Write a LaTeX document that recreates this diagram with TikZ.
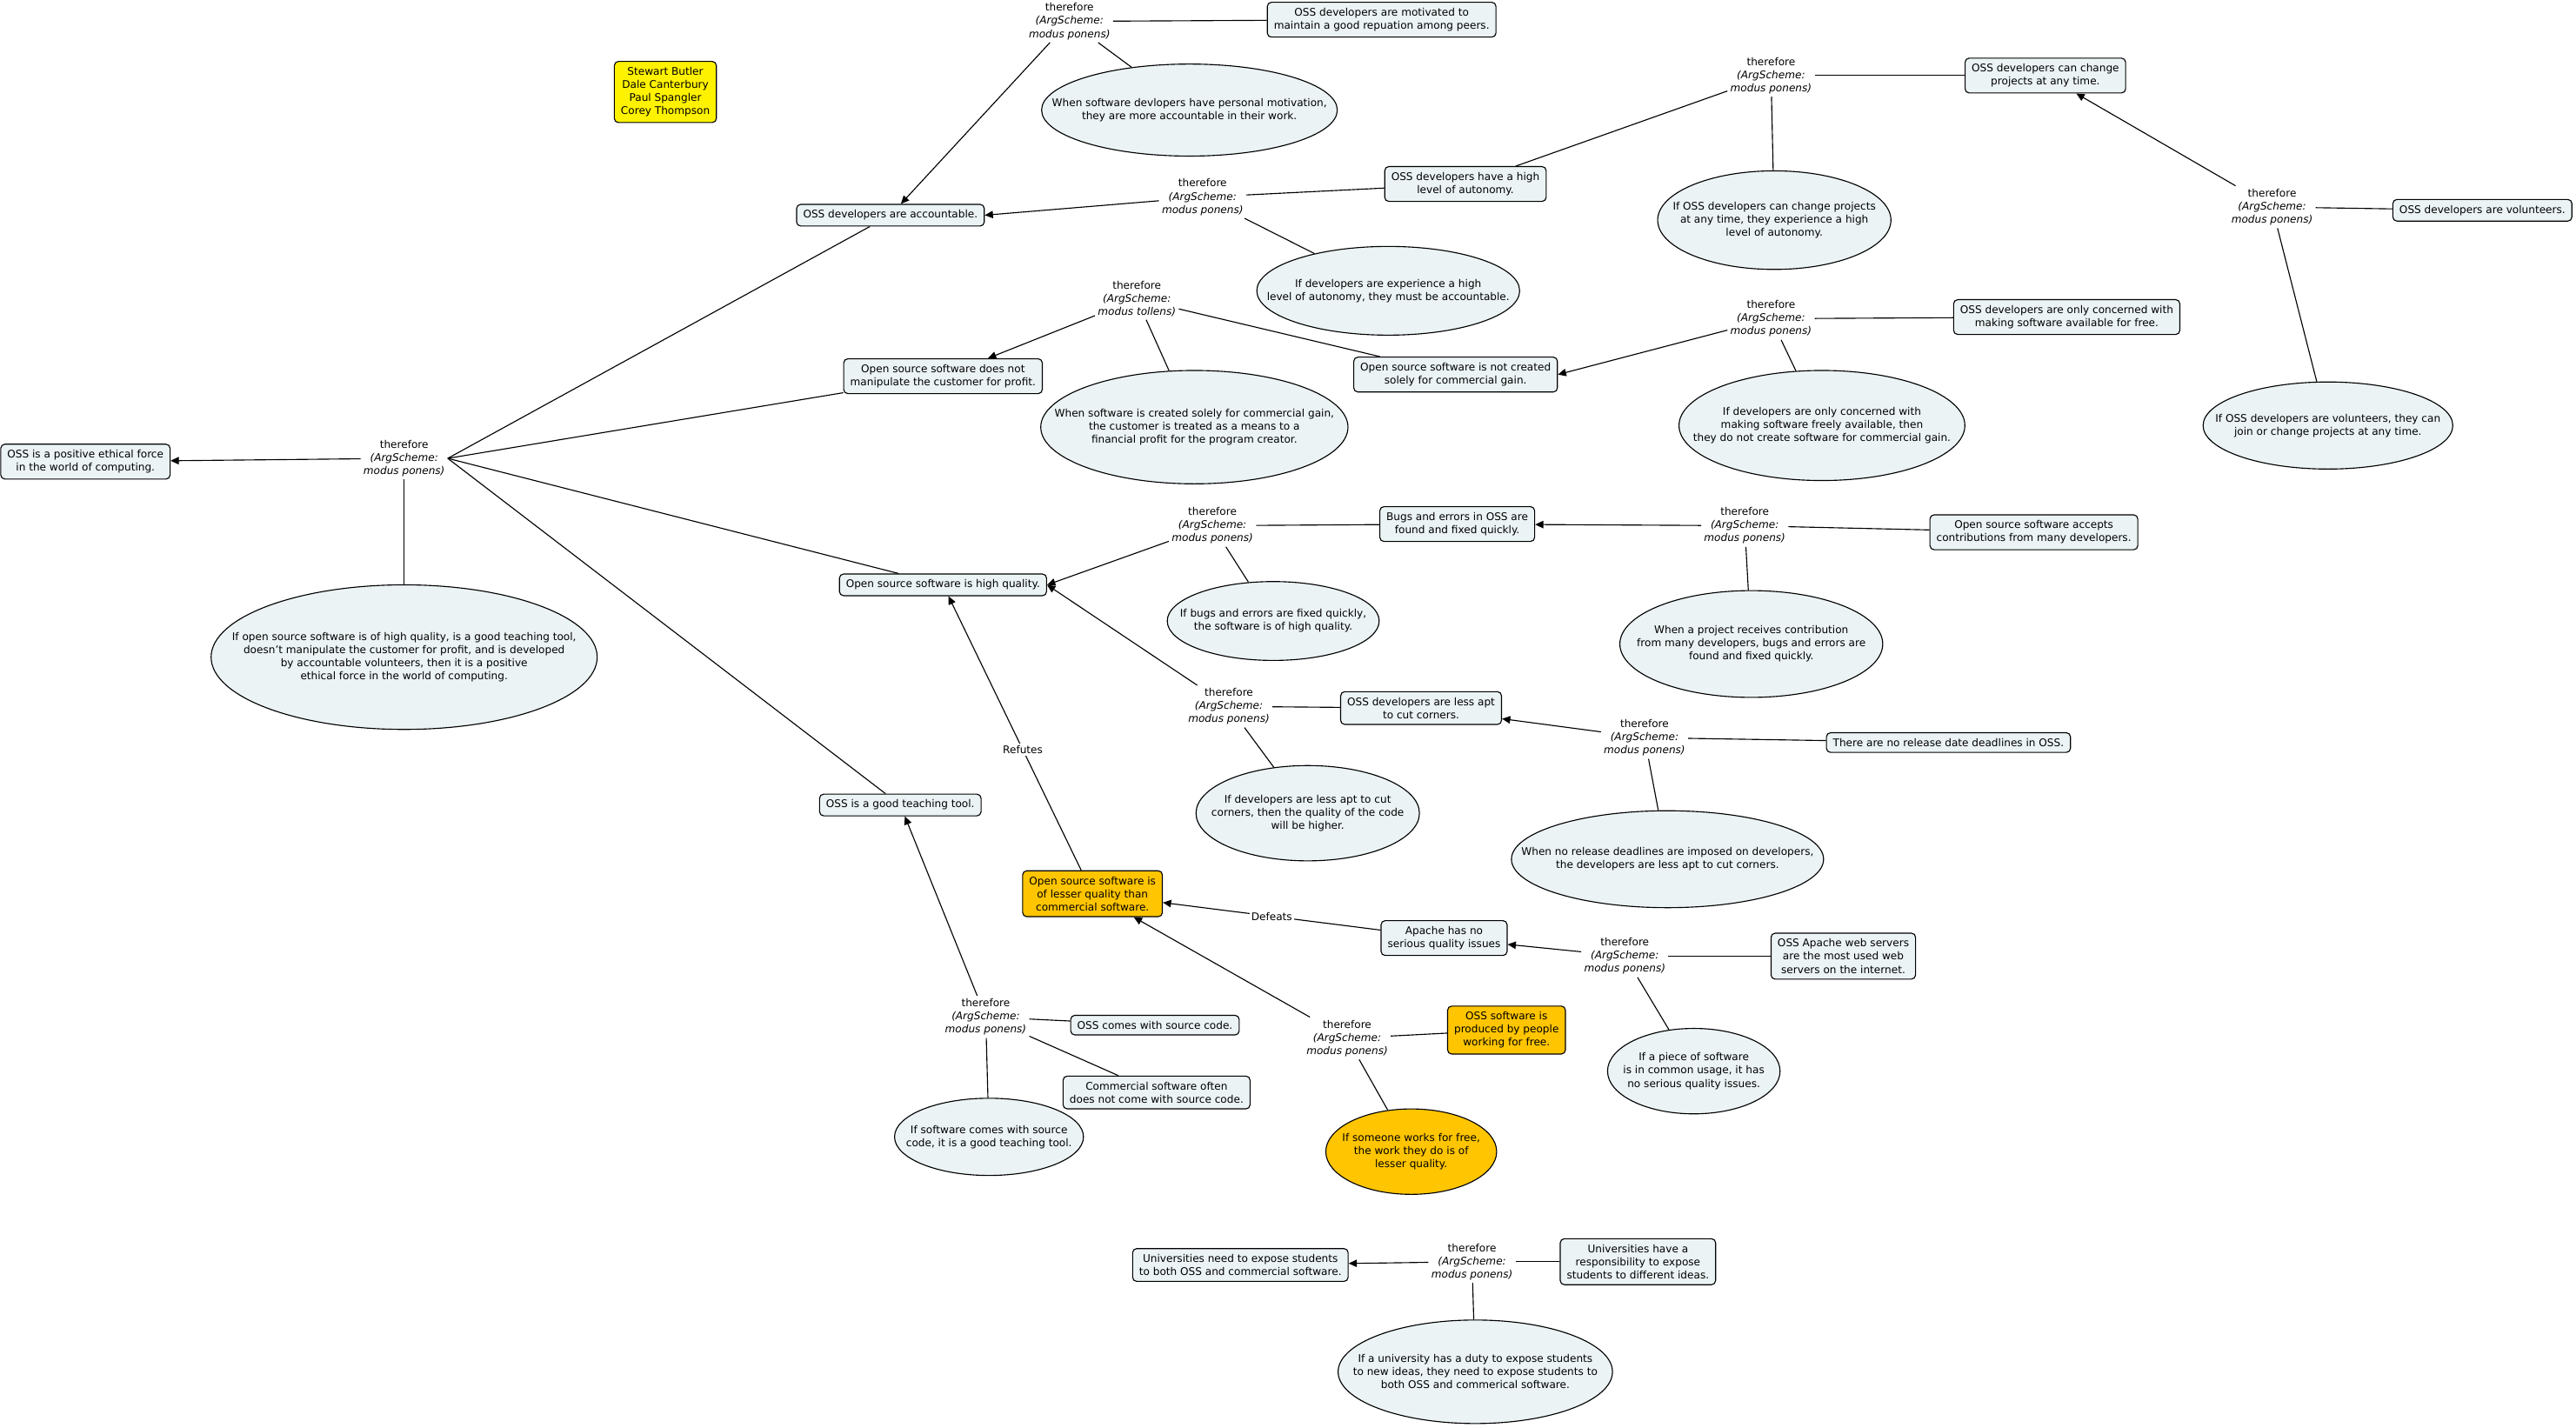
\documentclass[tikz,border=0pt]{standalone}
\usepackage{fontspec}
\setmainfont{DejaVu Sans}
\usepackage{xcolor}
\usepackage{tikz}
\usetikzlibrary{positioning}
\usetikzlibrary{arrows.meta}
\usetikzlibrary{shapes.geometric}

\definecolor{boxblue}{RGB}{235,243,245}
\definecolor{gold}{RGB}{255,197,0}

\newcommand{\argmp}{therefore\\\textit{(ArgScheme:}\\\textit{modus ponens)}}
\newcommand{\argmt}{therefore\\\textit{(ArgScheme:}\\\textit{modus tollens)}}

\tikzset{
  claim/.style={draw, rounded corners=2.5pt, fill=boxblue, align=center, inner xsep=4pt, inner ysep=3.5pt},
  rule/.style={ellipse, draw, fill=boxblue, inner sep=0pt},
  rtext/.style={align=center, inner sep=0pt},
  esize/.style 2 args={minimum width=#1pt, minimum height=#2pt},
  infer/.style={align=center, inner sep=1.5pt},
  conn/.style={-{Triangle[length=5pt,width=4.5pt]}},
  cut/.style={fill=white, inner sep=1pt}
}

\begin{document}
\begin{tikzpicture}[x=1pt, y=-1pt, line width=0.6pt, font=\fontsize{6.4}{8}\selectfont]
    \useasboundingbox (0,0) rectangle (1568,869);

    \node[claim, fill=yellow] (authors) at (405,56) {Stewart Butler\\Dale Canterbury\\Paul Spangler\\Corey Thompson};

    % accountability
    \node[infer] (thA) at (651,13) {\argmp};
    \node[claim] (motiv) at (841,12) {OSS developers are motivated to\\maintain a good repuation among peers.};
    \node[rule, esize={180}{56}, label={[rtext]center:{When software devlopers have personal motivation,\\they are more accountable in their work.}}] (rMotiv) at (724,67) {};
    \node[claim] (acc) at (542,131) {OSS developers are accountable.};
    \node[infer] (thB) at (732,120) {\argmp};
    \node[claim] (auton) at (892,112) {OSS developers have a high\\level of autonomy.};
    \node[rule, esize={160}{54}, label={[rtext]center:{If developers are experience a high\\level of autonomy, they must be accountable.}}] (rAuton) at (845,177) {};
    \node[infer] (thC) at (1078,46) {\argmp};
    \node[claim] (change) at (1245,46) {OSS developers can change\\projects at any time.};
    \node[rule, esize={142}{60}, label={[rtext]center:{If OSS developers can change projects\\at any time, they experience a high\\level of autonomy.}}] (rChange) at (1080,134) {};
    \node[infer] (thD) at (1383,126) {\argmp};
    \node[claim] (volun) at (1511,128) {OSS developers are volunteers.};
    \node[rule, esize={152}{53}, label={[rtext]center:{If OSS developers are volunteers, they can\\join or change projects at any time.}}] (rVolun) at (1417,259) {};

    % customer
    \node[infer] (thE) at (692,182) {\argmt};
    \node[claim] (manip) at (574,229) {Open source software does not\\manipulate the customer for profit.};
    \node[rule, esize={187}{69}, label={[rtext]center:{When software is created solely for commercial gain,\\the customer is treated as a means to a\\financial profit for the program creator.}}] (rManip) at (727,260) {};
    \node[claim] (notcom) at (886,228) {Open source software is not created\\solely for commercial gain.};
    \node[infer] (thF) at (1078,194) {\argmp};
    \node[claim] (free) at (1258,193) {OSS developers are only concerned with\\making software available for free.};
    \node[rule, esize={174}{67}, label={[rtext]center:{If developers are only concerned with\\making software freely available, then\\they do not create software for commercial gain.}}] (rFree) at (1109,259) {};

    % main claim
    \node[claim] (ethic) at (52,281) {OSS is a positive ethical force\\in the world of computing.};
    \node[infer] (thMain) at (246,279) {\argmp};
    \node[rule, esize={235}{88}, label={[rtext]center:{If open source software is of high quality, is a good teaching tool,\\doesn't manipulate the customer for profit, and is developed\\by accountable volunteers, then it is a positive\\ethical force in the world of computing.}}] (rEthic) at (246,400) {};

    % quality
    \node[claim] (quality) at (574,356) {Open source software is high quality.};
    \node[infer] (thG) at (738,320) {\argmp};
    \node[claim] (bugs) at (887,319) {Bugs and errors in OSS are\\found and fixed quickly.};
    \node[rule, esize={129}{48}, label={[rtext]center:{If bugs and errors are fixed quickly,\\the software is of high quality.}}] (rBugs) at (775,378) {};
    \node[infer] (thH) at (1062,320) {\argmp};
    \node[claim] (contrib) at (1238,324) {Open source software accepts\\contributions from many developers.};
    \node[rule, esize={160}{65}, label={[rtext]center:{When a project receives contribution\\from many developers, bugs and errors are\\found and fixed quickly.}}] (rContrib) at (1066,392) {};
    \node[infer] (thI) at (748,430) {\argmp};
    \node[claim] (corners) at (865,431) {OSS developers are less apt\\to cut corners.};
    \node[rule, esize={136}{58}, label={[rtext]center:{If developers are less apt to cut\\corners, then the quality of the code\\will be higher.}}] (rCorners) at (796,495) {};
    \node[infer] (thJ) at (1001,449) {\argmp};
    \node[claim] (deadl) at (1186,452) {There are no release date deadlines in OSS.};
    \node[rule, esize={190}{59}, label={[rtext]center:{When no release deadlines are imposed on developers,\\the developers are less apt to cut corners.}}] (rDeadl) at (1015,523) {};

    % objection
    \node[claim, fill=gold] (lesser) at (665,544) {Open source software is\\of lesser quality than\\commercial software.};
    \node[claim] (apache) at (879,571) {Apache has no\\serious quality issues};
    \node[infer] (thK) at (989,582) {\argmp};
    \node[claim] (webserv) at (1122,582) {OSS Apache web servers\\are the most used web\\servers on the internet.};
    \node[rule, esize={105}{52}, label={[rtext]center:{If a piece of software\\is in common usage, it has\\no serious quality issues.}}] (rWeb) at (1031,652) {};
    \node[infer] (thM) at (820,632) {\argmp};
    \node[claim, fill=gold] (workfree) at (917,627) {OSS software is\\produced by people\\working for free.};
    \node[rule, esize={104}{52}, fill=gold, label={[rtext]center:{If someone works for free,\\the work they do is of\\lesser quality.}}] (rWorkfree) at (859,701) {};

    % teaching
    \node[claim] (teach) at (548,490) {OSS is a good teaching tool.};
    \node[infer] (thL) at (600,619) {\argmp};
    \node[claim] (source) at (703,624) {OSS comes with source code.};
    \node[claim] (commsrc) at (704,665) {Commercial software often\\does not come with source code.};
    \node[rule, esize={115}{47}, label={[rtext]center:{If software comes with source\\code, it is a good teaching tool.}}] (rSource) at (602,692) {};

    % universities
    \node[infer] (thN) at (896,768) {\argmp};
    \node[claim] (univneed) at (755,770) {Universities need to expose students\\to both OSS and commercial software.};
    \node[claim] (univresp) at (997,768) {Universities have a\\responsibility to expose\\students to different ideas.};
    \node[rule, esize={167}{63}, label={[rtext]center:{If a university has a duty to expose students\\to new ideas, they need to expose students to\\both OSS and commerical software.}}] (rUniv) at (898,835) {};

    % connectors
    \draw[conn] (thA) -- (acc);
    \draw (motiv) -- (thA);
    \draw (rMotiv) -- (thA);
    \draw[conn] (thB) -- (acc.east);
    \draw (auton) -- (thB);
    \draw (rAuton) -- (thB);
    \draw (thC) -- (auton);
    \draw (change) -- (thC);
    \draw (rChange) -- (thC);
    \draw[conn] (thD) -- (change);
    \draw (volun) -- (thD);
    \draw (rVolun) -- (thD);

    \draw[conn] (thE) -- (manip);
    \draw (notcom) -- (thE);
    \draw (rManip) -- (thE);
    \draw[conn] (thF) -- (notcom.east);
    \draw (free) -- (thF);
    \draw (rFree) -- (thF);

    \draw[conn] (thMain) -- (ethic);
    \foreach \p in {acc, manip, quality, teach}
        \draw (\p) -- (thMain.east);
    \draw (rEthic) -- (thMain);

    \draw[conn] (thG) -- (quality.east);
    \draw (bugs) -- (thG);
    \draw (rBugs) -- (thG);
    \draw[conn] (thH) -- (bugs);
    \draw (contrib) -- (thH);
    \draw (rContrib) -- (thH);
    \draw[conn] (thI) -- (quality.east);
    \draw (corners) -- (thI);
    \draw (rCorners) -- (thI);
    \draw[conn] (thJ) -- (corners);
    \draw (deadl) -- (thJ);
    \draw (rDeadl) -- (thJ);

    \draw[conn] (lesser) -- node[cut, pos=0.44] {Refutes} (quality);
    \draw[conn] (apache) -- node[cut, pos=0.5] {Defeats} (lesser);
    \draw[conn] (thK) -- (apache);
    \draw (webserv) -- (thK);
    \draw (rWeb) -- (thK);
    \draw[conn] (thM) -- (lesser);
    \draw (workfree) -- (thM);
    \draw (rWorkfree) -- (thM);

    \draw[conn] (thL) -- (teach);
    \draw (source) -- (thL);
    \draw (commsrc) -- (thL);
    \draw (rSource) -- (thL);

    \draw[conn] (thN) -- (univneed);
    \draw (univresp) -- (thN);
    \draw (rUniv) -- (thN);
\end{tikzpicture}
\end{document}
